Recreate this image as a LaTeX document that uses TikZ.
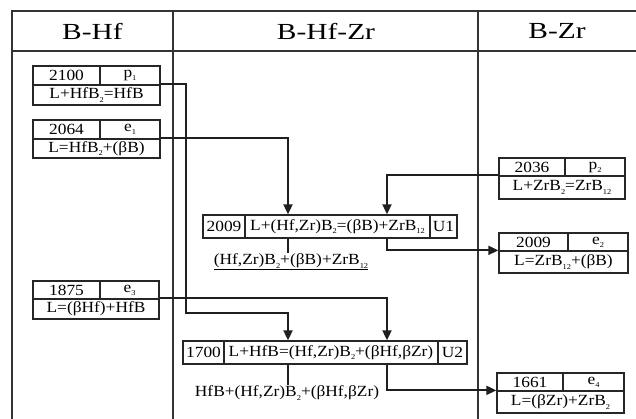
\documentclass[tikz,border=0pt]{standalone}
\usepackage{fontspec}
\setmainfont{Liberation Serif}
\newfontfamily\hdrfont[FakeStretch=1.28]{Liberation Serif}
\newfontfamily\boxfont[FakeStretch=1.12]{Liberation Serif}
\usetikzlibrary{arrows.meta}
\newcommand\sub[1]{\raisebox{-0.45ex}{\fontsize{7.5}{7.5}\selectfont #1}}
\newcommand\mycell[6]{\node[cell, minimum width={(#4-#2)*1pt}, minimum height={(#5-#3)*1pt}] (#1) at ({(#2+#4)/2},{(#3+#5)/2}) {#6};}
\begin{document}
\begin{tikzpicture}[x=1pt,y=-1pt,
 frame/.style={line width=2pt, draw=black!80},
 cell/.style={draw=black!85, line width=1.3pt, inner sep=0pt, font=\boxfont\fontsize{15.5}{15.5}\selectfont},
 lbl/.style={inner sep=1pt, font=\boxfont\fontsize{15.5}{15.5}\selectfont},
 conn/.style={line width=1.8pt, draw=black!88},
 arr/.style={conn, -{Triangle[length=10pt,width=9pt]}},
 hdr/.style={font=\hdrfont\fontsize{23}{23}\selectfont}]
\useasboundingbox (0,0) rectangle (636,418);
% frame
\draw[frame] (12,420) -- (12,11) -- (640,11);
\draw[frame] (12,51) -- (640,51);
\draw[frame] (173,11) -- (173,420);
\draw[frame] (478,11) -- (478,420);
\node[hdr] (h1) at (92.5,31) {B-Hf};
\node[hdr] (h2) at (326,31) {B-Hf-Zr};
\node[hdr] (h3) at (557,31) {B-Zr};
% B-Hf boxes
\mycell{p1a}{33}{66}{100}{85}{2100}
\mycell{p1b}{100}{66}{160}{85}{p\sub{1}}
\mycell{p1c}{33}{85}{160}{105}{L+HfB\sub{2}=HfB}
\mycell{e1a}{33}{120}{100}{139}{2064}
\mycell{e1b}{100}{120}{160}{139}{e\sub{1}}
\mycell{e1c}{33}{139}{160}{158}{L=HfB\sub{2}+(βB)}
\mycell{e3a}{33}{281}{100}{299}{1875}
\mycell{e3b}{100}{281}{159}{299}{e\sub{3}}
\mycell{e3c}{33}{299}{159}{319}{L=(βHf)+HfB}
% B-Zr boxes
\mycell{p2a}{499}{158}{565}{176}{2036}
\mycell{p2b}{565}{158}{625}{176}{p\sub{2}}
\mycell{p2c}{499}{176}{625}{199}{L+ZrB\sub{2}=ZrB\sub{12}}
\mycell{e2a}{499}{233}{568}{251}{2009}
\mycell{e2b}{568}{233}{628}{251}{e\sub{2}}
\mycell{e2c}{499}{251}{628}{273}{L=ZrB\sub{12}+(βB)}
\mycell{e4a}{497}{373}{563}{391}{1661}
\mycell{e4b}{563}{373}{624}{391}{e\sub{4}}
\mycell{e4c}{497}{391}{624}{413}{L=(βZr)+ZrB\sub{2}}
% ternary boxes
\mycell{u1a}{203}{215}{245}{238}{2009}
\mycell{u1b}{245}{215}{430}{238}{L+(Hf,Zr)B\sub{2}=(βB)+ZrB\sub{12}}
\mycell{u1c}{430}{215}{457}{238}{U1}
\mycell{u2a}{183}{341}{224}{364}{1700}
\mycell{u2b}{224}{341}{438}{364}{L+HfB=(Hf,Zr)B\sub{2}+(βHf,βZr)}
\mycell{u2c}{438}{341}{467}{364}{U2}
\node[lbl] (r1) at (291,262) {\underline{(Hf,Zr)B\sub{2}+(βB)+ZrB\sub{12}}};
\node[lbl] (r2) at (287,393) {HfB+(Hf,Zr)B\sub{2}+(βHf,βZr)};
% connectors
\coordinate (a1) at (288,0);
\coordinate (a2) at (387,0);
\coordinate (k1) at (186,313);
\draw[arr] (p1c.north east) -| (k1) -| (u2b.north -| a1);
\draw[arr] (e1c.north east) -| (u1b.north -| a1);
\draw[arr] (p2c.north west) -| (u1b.north -| a2);
\draw[arr] (u1b.south -| a2) |- (e2c.north west);
\draw[arr] (e3c.north east) -| (u2b.north -| a2);
\draw[arr] (u2b.south -| a2) |- (e4c.north west);
\draw[conn] (u1b.south -| a1) -- (r1.north -| a1);
\draw[conn] (u2b.south -| a1) -- (r2.north -| a1);
\end{tikzpicture}
\end{document}
